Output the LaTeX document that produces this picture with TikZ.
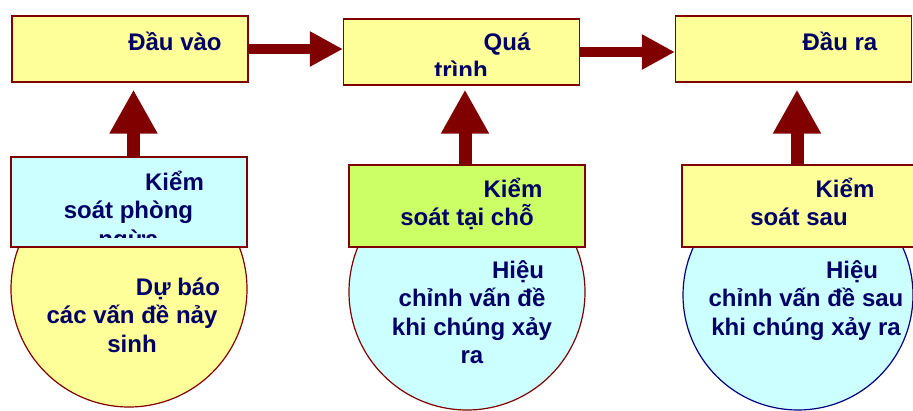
\documentclass[tikz,border=0pt]{standalone}
\usepackage{fontspec}
\setmainfont{Liberation Sans}
\usetikzlibrary{arrows.meta}
\definecolor{BoxRed}{HTML}{800000}
\definecolor{TextNavy}{HTML}{000066}
\definecolor{PaleYellow}{HTML}{FFFF99}
\definecolor{PaleCyan}{HTML}{CCFFFF}
\definecolor{LimeGreen}{HTML}{CCFF66}
\definecolor{RimNavy}{HTML}{000080}
\newcommand{\lead}{\hspace*{92pt}}
\begin{document}
\begin{tikzpicture}[x=1pt,y=-1pt,
  every node/.style={font=\fontsize{24}{28.5}\selectfont\bfseries,text=TextNavy},
  box/.style={draw=BoxRed,line width=1.2pt,minimum width=236pt,inner sep=0pt},
  disc/.style={circle,draw=BoxRed,line width=1.2pt,minimum size=236pt,inner sep=0pt},
  lbl/.style={anchor=base,align=center},
  flow/.style={BoxRed,line width=10pt,-{Triangle[length=33pt,width=33pt]}},
  lift/.style={BoxRed,line width=13pt,-{Triangle[length=44pt,width=45pt]}}]
\clip (0,0) rectangle (913,410);
% circles behind the control boxes
\node[disc,fill=PaleYellow] (c1) at (129,289) {};
\node[disc,fill=PaleCyan] (c2) at (467,292) {};
\node[disc,fill=PaleCyan,draw=RimNavy,minimum size=230pt] (c3) at (798,295) {};
% top row
\node[box,fill=PaleYellow,minimum height=66pt] (b1) at (130,49) {};
\node[box,fill=PaleYellow,minimum height=66pt] (b2) at (461.5,52) {};
\node[box,fill=PaleYellow,minimum height=66pt] (b3) at (793.5,49) {};
% control boxes
\node[box,fill=PaleCyan,minimum height=90pt] (kp) at (129,202) {};
\node[box,fill=LimeGreen,minimum height=82pt] (kt) at (467,206) {};
\node[box,fill=PaleYellow,minimum height=82pt] (ks) at (800,206) {};
% texts (anchored at the baseline of the last line)
\node[lbl] (t1) at (175,50) {Đầu vào};
\begin{scope}
\clip (b2.north west) rectangle ([yshift=10pt]b2.south east);
\node[lbl] (t2) at (461,78.5) {\lead Quá\\trình};
\end{scope}
\node[lbl] (t3) at (840,50) {Đầu ra};
\begin{scope}
\clip (kp.north west) rectangle ([yshift=10pt]kp.south east);
\node[lbl] (tp) at (128.5,247) {\lead Kiểm\\soát phòng\\ngừa};
\end{scope}
\node[lbl] (dp) at (132,352) {\lead Dự báo\\các vấn đề nảy\\sinh};
\node[lbl] (tt) at (467,225.5) {\lead Kiểm\\soát tại chỗ};
\node[lbl] (dt) at (472,363.5) {\lead Hiệu\\chỉnh vấn đề\\khi chúng xảy\\ra};
\node[lbl] (ts) at (799,225.5) {\lead Kiểm\\soát sau};
\node[lbl] (ds) at (806,335) {\lead Hiệu\\chỉnh vấn đề sau\\khi chúng xảy ra};
% arrows
\draw[flow] (b1.east) -- (b1.east -| b2.west);
\draw[flow] (b2.east) -- (b2.east -| b3.west);
\draw[lift,shorten >=7pt] ([xshift=3.5pt]b1.south |- kp.north) -- ([xshift=3.5pt]b1.south);
\draw[lift,shorten >=4pt] ([xshift=3.5pt]b2.south |- kt.north) -- ([xshift=3.5pt]b2.south);
\draw[lift,shorten >=7pt] ([xshift=3.5pt]b3.south |- ks.north) -- ([xshift=3.5pt]b3.south);
\end{tikzpicture}
\end{document}
